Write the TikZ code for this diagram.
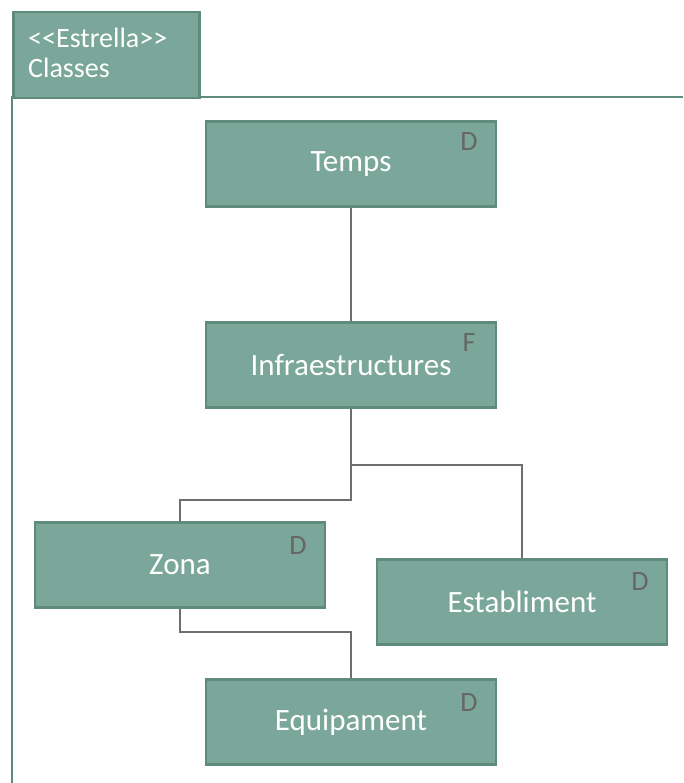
\documentclass[tikz,border=0pt]{standalone}
\usepackage{fontspec}
\setmainfont{Carlito}
\begin{document}
\definecolor{boxfill}{HTML}{7BA79A}
\definecolor{boxline}{HTML}{5F8B7D}
\definecolor{wire}{HTML}{6E6E6E}
\definecolor{tagcol}{HTML}{666666}
\begin{tikzpicture}[x=1pt,y=-1pt,
  cls/.style={draw=boxline,line width=2.5pt,fill=boxfill,minimum width=290pt,minimum height=85pt,
    inner sep=0pt,text=white,font=\fontsize{31}{36}\selectfont},
  tag/.style={text=tagcol,font=\fontsize{28}{32}\selectfont,inner sep=0pt},
  link/.style={draw=wire,line width=2pt}]
\useasboundingbox (0,0) rectangle (683,783);
% package frame with its tab
\draw[boxline,line width=2.5pt] (12,783) -- (12,97) -- (683,97);
\node[draw=boxline,line width=2.5pt,fill=boxfill,minimum width=186pt,minimum height=86pt,inner sep=0pt,anchor=north west] (tab) at (12,11) {};
\node[anchor=base west,text=white,font=\fontsize{28}{32}\selectfont,inner sep=0pt] (stereo) at (28,48) {{<}{<}Estrella{>}{>}};
\node[anchor=base west,text=white,font=\fontsize{28}{32}\selectfont,inner sep=0pt] (pkgname) at (28,78) {Classes};
% classes
\node[cls] (temps) at (351,164) {Temps};
\node[cls] (infra) at (351,365) {Infraestructures};
\node[cls] (zona) at (180,565) {Zona};
\node[cls] (estab) at (522,602) {Establiment};
\node[cls] (equip) at (351,722) {Equipament};
% stereotype letters
\node[tag] (dtemps) at (469,142) {D};
\node[tag] (finfra) at (469,343) {F};
\node[tag] (dzona) at (298,546) {D};
\node[tag] (destab) at (640,582) {D};
\node[tag] (dequip) at (469,703) {D};
% connectors
\coordinate (j1) at (351,500);
\coordinate (j2) at (351,465);
\draw[link] (temps.south) -- (infra.north);
\draw[link] (infra.south) -- (j1) -| (zona.north);
\draw[link] (j2) -| (estab.north);
\draw[link] (zona.south) |- (351,632) -- (equip.north);
\end{tikzpicture}
\end{document}
